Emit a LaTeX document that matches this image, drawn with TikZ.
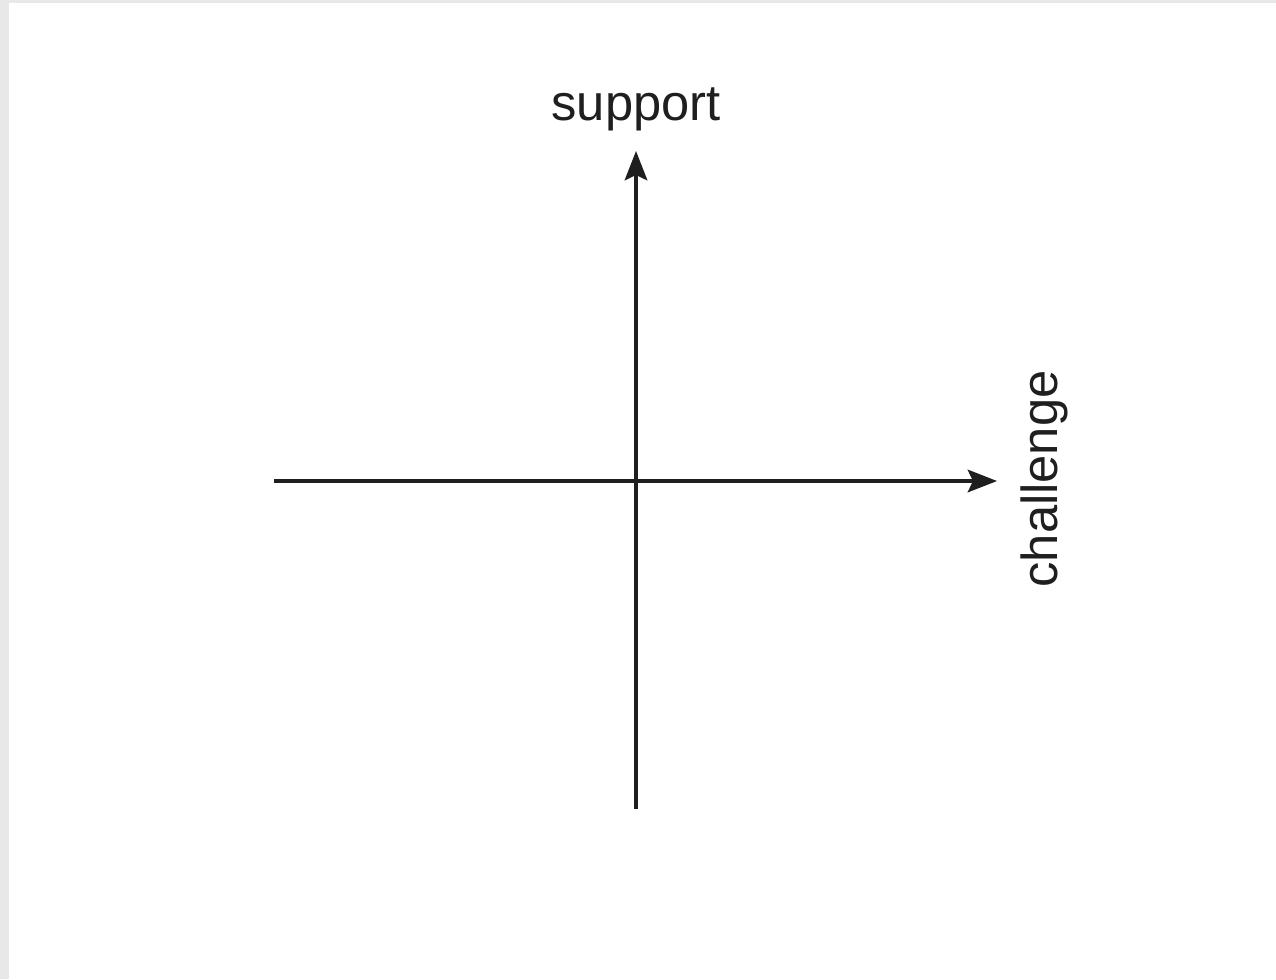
\documentclass[tikz,border=0pt]{standalone}
\usepackage{fontspec}
\setmainfont{Liberation Sans}
\usetikzlibrary{arrows.meta}
\begin{document}
\begin{tikzpicture}[x=0.75pt,y=-0.75pt,
  axis/.style={line width=2.3pt,color=black!88,-{Stealth[length=22pt,width=17pt,inset=4pt]}},
  axislabel/.style={font=\fontsize{38}{46}\selectfont,text=black!88,inner sep=0pt}]
\useasboundingbox (0,0) rectangle (1276,979);
\fill[black!9] (0,0) rectangle (1276,979);
\fill[white] (9,3) rectangle (1276,979);
\coordinate (xl) at (274,481);
\coordinate (xr) at (997,481);
\coordinate (yb) at (636,809);
\coordinate (yt) at (636,151);
\draw[axis] (xl) -- (xr);
\draw[axis] (yb) -- (yt);
\node[axislabel,anchor=base] (sup) at (636,120) {support};
\node[axislabel,anchor=base,rotate=90] (cha) at (1057,479) {challenge};
\end{tikzpicture}
\end{document}
